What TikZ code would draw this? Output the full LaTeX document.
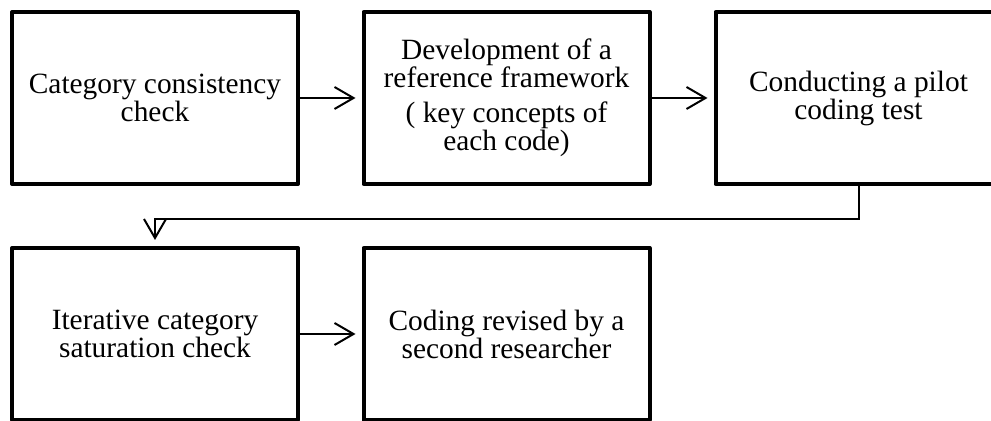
\documentclass[tikz,border=0pt]{standalone}
\usepackage{fontspec}
\setmainfont{Liberation Serif}
\newfontfamily\stagefont{Liberation Serif}
\usetikzlibrary{arrows.meta}
\begin{document}
\begin{tikzpicture}[x=0.5pt,y=-0.5pt,
  stage/.style={draw, line width=2pt, line join=round, minimum width=143pt,
    minimum height=86pt, inner sep=0pt, align=center,
    font=\stagefont\fontsize{14.7pt}{14pt}\selectfont},
  link/.style={line width=1pt, -{Straight Barb[length=9.5pt,width=11pt]},
    shorten >=3pt}]
  \useasboundingbox (0,0) rectangle (991,421);
  \clip (0,0) rectangle (991,421);
  \fill[white] (0,0) rectangle (991,421);

  % first row
  \node[stage] (consist) at (155,98) {Category consistency\\check};
  \node[stage] (frame) at (506.5,98) {Development of a\\reference framework\\[3.5pt]( key concepts of\\each code)};
  \node[stage] (pilot) at (858.5,98) {Conducting a pilot\\coding test};

  % second row
  \node[stage] (satur) at (155,334) {Iterative category\\saturation check};
  \node[stage] (revise) at (506.5,334) {Coding revised by a\\second researcher};

  % connectors
  \draw[link] (consist.east) -- (frame.west);
  \draw[link] (frame.east) -- (pilot.west);
  \draw[link] (pilot.south) -- ++(0,33) -| (satur.north);
  \draw[link] (satur.east) -- (revise.west);
\end{tikzpicture}
\end{document}
